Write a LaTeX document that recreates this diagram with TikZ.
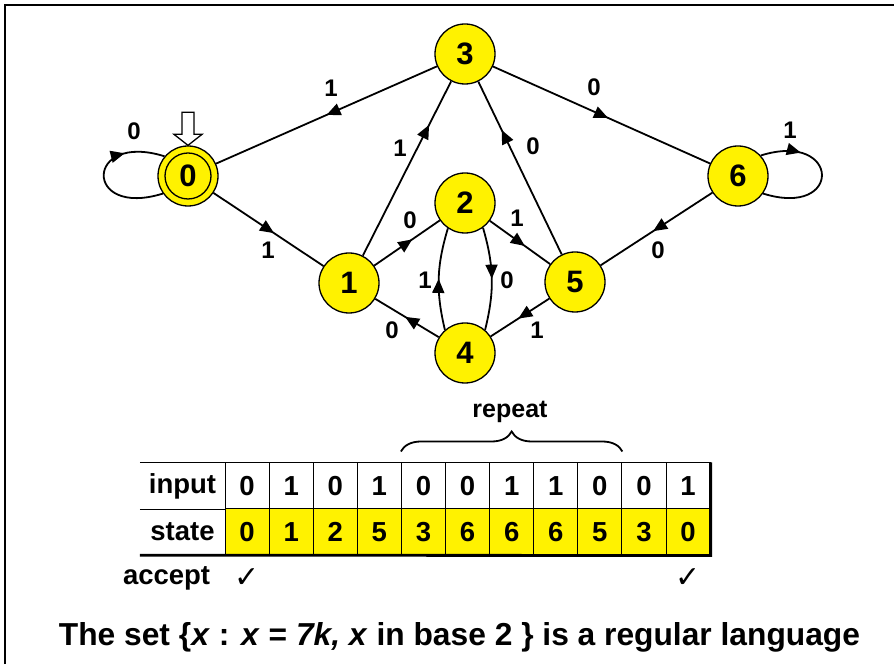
\documentclass[tikz,border=0pt]{standalone}
\usepackage{fontspec}
\setmainfont{Liberation Sans}
\newfontfamily\checkfont{DejaVu Sans}
\usetikzlibrary{arrows.meta,decorations.markings,decorations.pathreplacing}

\begin{document}
\begin{tikzpicture}[x=1pt,y=1pt,
    state/.style={circle, draw, fill=yellow, line width=1.3pt, minimum size=60pt, inner sep=0pt, font=\bfseries\fontsize{31}{31}\selectfont},
    link/.style={line width=1.8pt},
    flow/.style={postaction={decorate,decoration={markings,mark=at position #1 with {\arrow{Triangle[length=14pt,width=12pt]}}}}},
    lab/.style={font=\bfseries\fontsize{24}{24}\selectfont},
    tcell/.style={draw, line width=1pt, minimum width=44.1pt, minimum height=46pt, inner sep=0pt, font=\bfseries\fontsize{27.5}{27.5}\selectfont},
    rowname/.style={minimum width=85pt, minimum height=46pt, inner sep=0pt, font=\bfseries\fontsize{27.5}{27.5}\selectfont}
]
    \useasboundingbox (0,0) rectangle (894,664);

    % the frame (only top and left show)
    \draw[line width=1.8pt] (5,0) -- (5,659) -- (894,659);

    % the states
    \node[state] (s0) at (188,488) {0};
    \node[state] (s1) at (349,381) {1};
    \node[state] (s2) at (465,461) {2};
    \node[state] (s3) at (465,610) {3};
    \node[state] (s4) at (465,311) {4};
    \node[state] (s5) at (575,382) {5};
    \node[state] (s6) at (738,488) {6};
    \draw[line width=1.3pt] (s0.center) circle (23pt);

    % start arrow on top of state 0
    \draw[line width=1.3pt, fill=white, shift={(s0.north)}] (0,0) -- (-14,11) -- (-6,11) -- (-6,33) -- (6,33) -- (6,11) -- (14,11) -- cycle;

    % the transitions
    \draw[link, flow=0.72] (s0.215) .. controls +(-80,-25) and +(-80,25) .. (s0.140);
    \draw[link, flow=0.5] (s3) -- (s0);
    \draw[link, flow=0.55] (s0) -- (s1);
    \draw[link, flow=0.75] (s1) -- (s3);
    \draw[link, flow=0.58] (s1) -- (s2);
    \draw[link, flow=0.58] (s2) -- (s5);
    \draw[link, flow=0.5] (s2.-54) to[bend left=15] (s4.49);
    \draw[link, flow=0.5] (s4.131) to[bend left=15] (s2.236);
    \draw[link, flow=0.53] (s4) -- (s1);
    \draw[link, flow=0.53] (s5) -- (s4);
    \draw[link, flow=0.72] (s5) -- (s3);
    \draw[link, flow=0.53] (s3) -- (s6);
    \draw[link, flow=0.53] (s6) -- (s5);
    \draw[link, flow=0.28] (s6.42) .. controls +(80,25) and +(80,-25) .. (s6.-35);

    % the labels of the transitions
    \node[lab] (l00) at (134,533) {0};
    \node[lab] (l30) at (331,576) {1};
    \node[lab] (l01) at (268,414) {1};
    \node[lab] (l13) at (400,516) {1};
    \node[lab] (l12) at (410,444) {0};
    \node[lab] (l25) at (517,446) {1};
    \node[lab] (l42) at (425,384) {1};
    \node[lab] (l24) at (507,384) {0};
    \node[lab] (l41) at (392,334) {0};
    \node[lab] (l54) at (537,334) {1};
    \node[lab] (l53) at (533,518) {0};
    \node[lab] (l36) at (594,577) {0};
    \node[lab] (l65) at (658,414) {0};
    \node[lab] (l66) at (790,534) {1};

    % the table of a run
    \node[rowname] (lin) at (182.5,178) {input};
    \node[rowname] (lst) at (182.5,132) {state};
    \foreach \v [count=\i] in {0,1,0,1,0,0,1,1,0,0,1}
        \node[tcell] (in\i) at ({202.95+44.1*\i},178) {\v};
    \foreach \v [count=\i] in {0,1,2,5,3,6,6,6,5,3,0}
        \node[tcell, fill=yellow] (st\i) at ({202.95+44.1*\i},132) {\v};
    \draw[line width=1pt] (lin.north west) -- (lin.north east);
    \draw[line width=1pt] (lin.south west) -- (lin.south east);
    \draw[line width=2.8pt] (lst.south west) -- (st11.south east) -- (in11.north east);

    % the brace over the part that repeats
    \draw[line width=1.8pt, decorate, decoration={brace, amplitude=20pt}] ([yshift=11pt]in5.north west) -- ([yshift=11pt]in9.north east);
    \node[font=\bfseries\fontsize{25}{25}\selectfont] (rep) at (510,252) {repeat};

    % accepting steps
    \node[rowname] (acc) at (166.6,86) {accept};
    \node[font=\checkfont\fontsize{30}{30}\selectfont] (ok1) at (st1 |- acc) {✓};
    \node[font=\checkfont\fontsize{30}{30}\selectfont] (ok11) at (st11 |- acc) {✓};

    % the caption
    \node[font=\bfseries\fontsize{31.75}{32}\selectfont] (cap) at (459.5,27)
        {The set \{\textit{x} : \textit{x} = \textit{7k,} \textit{x} in base 2 \} is a regular language};

\end{tikzpicture}
\end{document}
